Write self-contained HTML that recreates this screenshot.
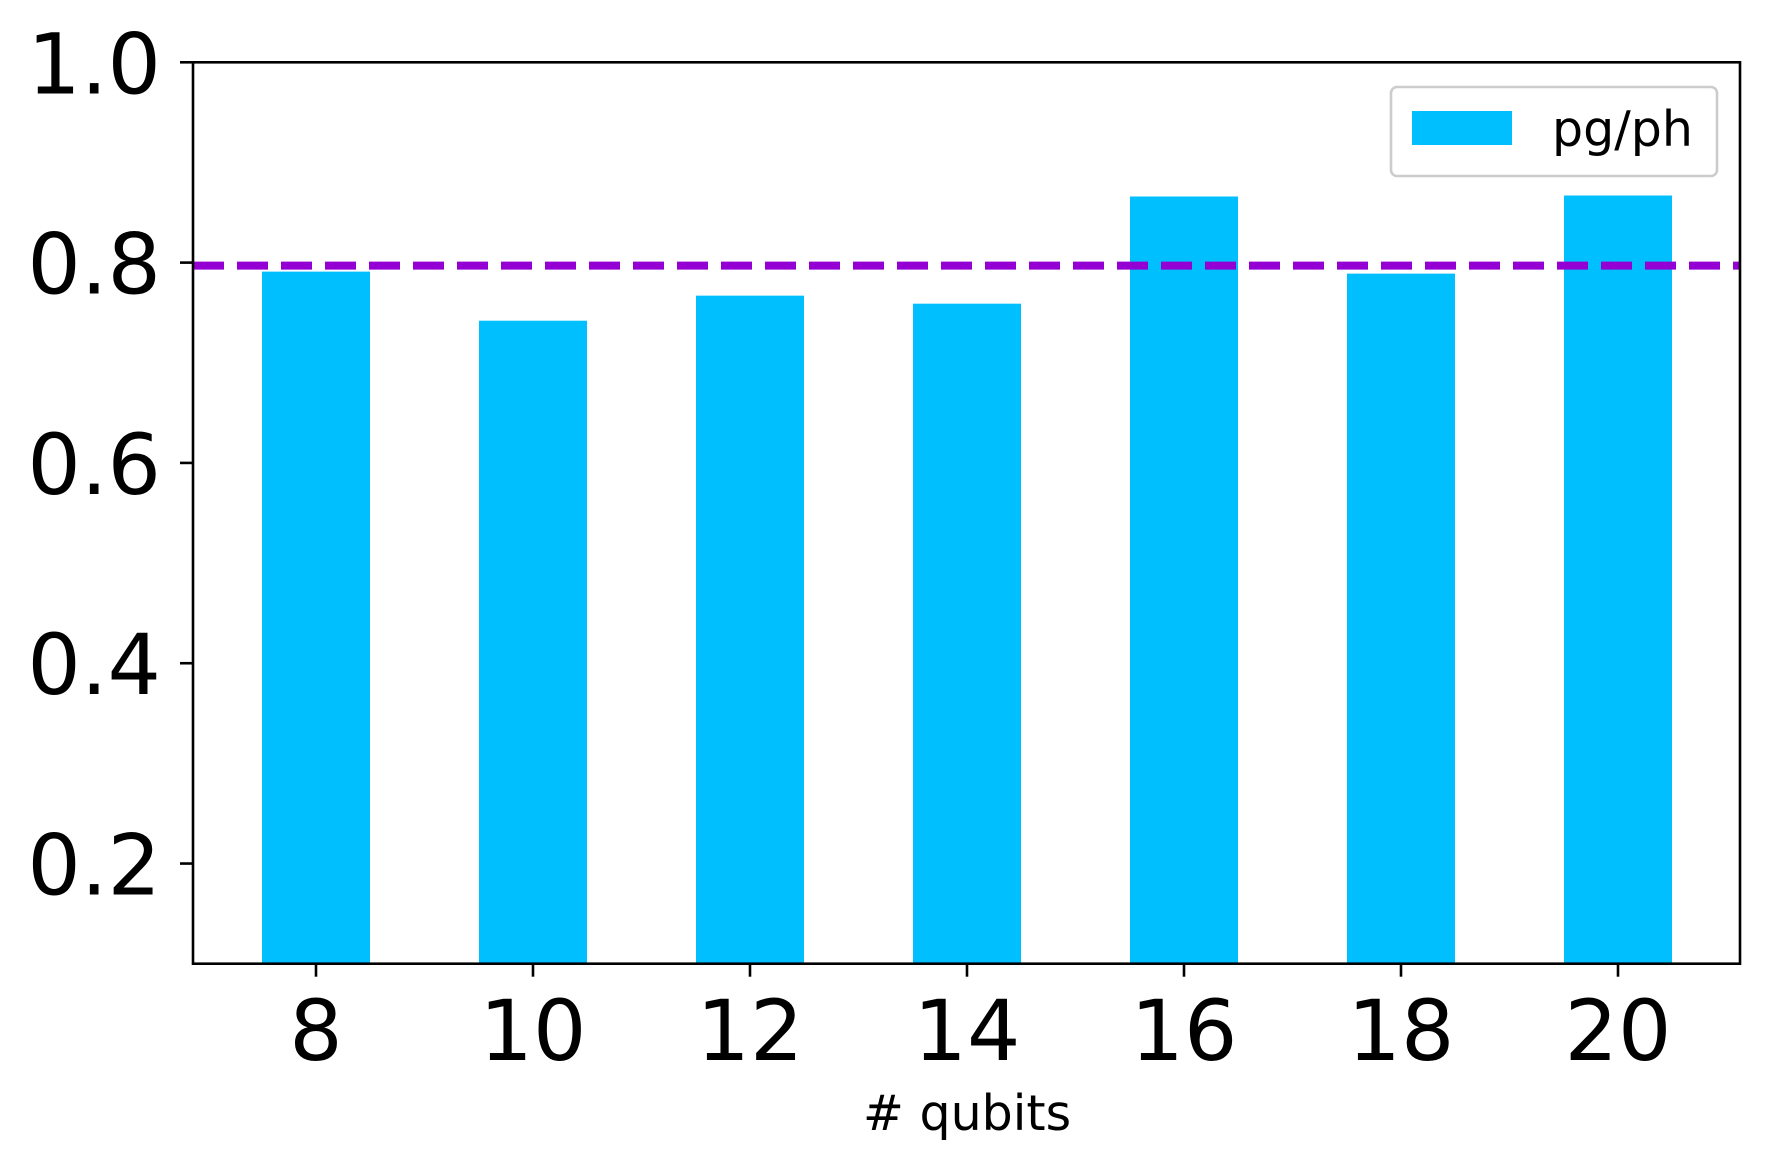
<!DOCTYPE html>
<html><head><meta charset="utf-8"><style>
html,body{margin:0;padding:0;background:#fff;}
svg{display:block;}
text{font-family:"DejaVu Sans","Liberation Sans",sans-serif;fill:#000;}
</style></head><body>
<svg id="chart" width="1770" height="1169" viewBox="0 0 1770 1169" xmlns="http://www.w3.org/2000/svg"></svg>
<script>
const categories = ["8","10","12","14","16","18","20"];
const values = [0.791, 0.742, 0.767, 0.759, 0.866, 0.789, 0.867];
const yTicks = [0.2, 0.4, 0.6, 0.8, 1.0];
const yTickLabels = ["0.2","0.4","0.6","0.8","1.0"];
const refValue = 0.797;

const svg = document.getElementById('chart');
const NS = 'http://www.w3.org/2000/svg';
const L = 193, R = 1740, T = 62.3, B = 963.7;
const yMin = 0.1, yMax = 1.0;
const x0 = 316, step = 217, barW = 108;
function yScale(v){ return B - (v - yMin) / (yMax - yMin) * (B - T); }
function xScale(i){ return x0 + step * i; }
function mk(tag, attrs){ const e = document.createElementNS(NS, tag); for (const k in attrs) e.setAttribute(k, attrs[k]); svg.appendChild(e); return e; }

categories.forEach((c, i) => {
  const y = yScale(values[i]);
  const r = mk('rect', {x: xScale(i) - barW/2, y: y, width: barW, height: B - y, fill: '#00bfff'});
  
  
});

const ref = mk('line', {x1: L, x2: R, y1: yScale(refValue), y2: yScale(refValue), stroke: '#9400d3', 'stroke-width': 8, 'stroke-dasharray': '31 13'});



const frame = mk('rect', {x: L, y: T, width: R - L, height: B - T, fill: 'none', stroke: '#000', 'stroke-width': 2.6});



yTicks.forEach((v, i) => {
  const y = yScale(v);
  const t = mk('line', {x1: L - 13, x2: L, y1: y, y2: y, stroke: '#000', 'stroke-width': 2.6});
  
  
  const lb = mk('text', {x: 161, y: y + 31, 'text-anchor': 'end', 'font-size': 84});
  lb.textContent = yTickLabels[i];
  
  
});

categories.forEach((c, i) => {
  const x = xScale(i);
  const t = mk('line', {x1: x, x2: x, y1: B, y2: B + 13, stroke: '#000', 'stroke-width': 2.6});
  
  
  const lb = mk('text', {x: x, y: 1060, 'text-anchor': 'middle', 'font-size': 84});
  lb.textContent = c;
  
  
});

const xl = mk('text', {x: 967, y: 1130, 'text-anchor': 'middle', 'font-size': 49});
xl.textContent = '# qubits';



const lg = mk('rect', {x: 1391, y: 87, width: 326, height: 89, rx: 6, fill: '#fff', 'fill-opacity': 0.8, stroke: '#ccc', 'stroke-width': 2.6});


const lp = mk('rect', {x: 1412, y: 111, width: 100, height: 34, fill: '#00bfff'});


const lt = mk('text', {x: 1552, y: 146, 'font-size': 49});
lt.textContent = 'pg/ph';


</script>
</body></html>
